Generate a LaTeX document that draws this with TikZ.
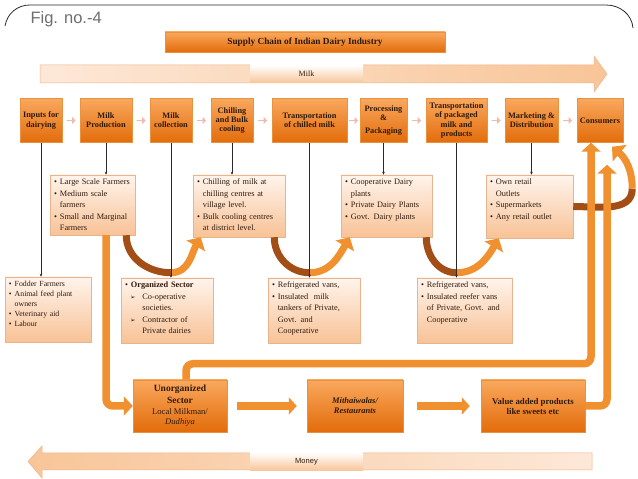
\documentclass[tikz,border=0pt]{standalone}
\usepackage{fontspec}
\setmainfont{Liberation Serif}
\setsansfont{Liberation Sans}
\newfontfamily\dingfont{DejaVu Sans}
\usetikzlibrary{arrows.meta,positioning,calc,shapes.arrows,shadows}
\definecolor{DyOrangeHi}{HTML}{F9A85E}
\definecolor{DyOrangeLo}{HTML}{E36C0A}
\definecolor{DyEdge}{HTML}{E8923F}
\definecolor{DyPeachHi}{HTML}{FFF4EC}
\definecolor{DyPeachLo}{HTML}{F8C296}
\definecolor{DyPeachEdge}{HTML}{E9B48B}
\definecolor{DyInk}{HTML}{2E1A0C}
\definecolor{DyBrown}{HTML}{A34E17}
\definecolor{DyFlow}{HTML}{F0902E}
\definecolor{DyBandL}{HTML}{FDE8D8}
\definecolor{DyBandR}{HTML}{F8C598}
\definecolor{DyBandEdge}{HTML}{F1B486}
\definecolor{DyChev}{HTML}{F3B9A9}
\definecolor{DyGray}{HTML}{6E6E6E}
\definecolor{DyLine}{HTML}{2A2A2A}
\newcommand{\bul}{\textbullet\hspace{3pt}}
\newcommand{\bhang}{\hspace*{0pt}\hphantom{\textbullet}\hspace{3pt}}
\newcommand{\darr}{\hspace*{5pt}{\dingfont\fontsize{6.5}{6.5}\selectfont ➢}\hspace{7pt}}
\newcommand{\dhang}{\hspace*{5pt}\hphantom{{\dingfont\fontsize{6.5}{6.5}\selectfont ➢}}\hspace{7pt}}
\tikzset{
  stage/.style={draw=DyEdge,line width=.5pt,top color=DyOrangeHi,bottom color=DyOrangeLo,
                text=DyInk,align=center,inner sep=1pt,minimum height=44pt,minimum width=#1,
                font=\fontsize{8.3}{9.2}\selectfont\bfseries,
                drop shadow={opacity=.25,shadow xshift=1pt,shadow yshift=-1pt}},
  peach/.style={draw=DyPeachEdge,line width=.5pt,top color=DyPeachHi,bottom color=DyPeachLo,
                text=DyInk,align=left,text width=#1,inner xsep=4pt,inner ysep=3pt,
                text height=7pt,font=\fontsize{8.3}{11.5}\selectfont,
                drop shadow={opacity=.2,shadow xshift=1pt,shadow yshift=-1pt}},
  titlebar/.style={top color=DyOrangeHi,bottom color=DyOrangeLo,draw=DyEdge,line width=.4pt,
                   minimum width=280pt,minimum height=20pt,text=DyInk,
                   font=\fontsize{9.3}{11}\selectfont\bfseries,
                   drop shadow={opacity=.2,shadow xshift=1pt,shadow yshift=-1pt}},
  band/.style={draw=DyBandEdge,line width=.5pt},
  bandtag/.style={minimum width=113pt,minimum height=18pt,inner sep=0pt,text=DyInk,
                  top color=white,bottom color=DyBandR},
  flow/.style={draw=DyFlow,line width=7.5pt,rounded corners=7pt,
               -{Triangle[width=19pt,length=9pt]}},
  dropbend/.style={draw=DyBrown,line width=7pt},
  risebend/.style={draw=DyFlow,line width=7pt,-{Triangle[width=21pt,length=10pt]}},
}
\begin{document}
\begin{tikzpicture}[x=1pt,y=1pt,
    chev/.style={single arrow,fill=DyChev,draw=none,minimum height=9pt,minimum width=7pt,
                 single arrow head extend=1.5pt,inner sep=0pt},
    tick/.style={DyLine,line width=.5pt,-{Stealth[length=3pt,width=2.6pt]}}]
  \useasboundingbox (0,0) rectangle (638,479);
  \fill[white] (0,0) rectangle (638,479);

  \draw[DyLine,line width=.8pt] (5,453) to[out=80,in=180] (30,474) -- (606,474)
    to[out=0,in=95] (633,451);
  \node[anchor=base west,text=DyGray,font=\sffamily\fontsize{16.5}{18}\selectfont]
    (fig) at (27,455) {Fig. no.-4};

  \node[titlebar] (title) at (305,437) {Supply Chain of Indian Dairy Industry};

  % milk and money bands
  \path[band,left color=DyBandL,right color=DyBandR]
    (40,396) -- (594,396) -- (594,387) -- (607,405) -- (594,423) -- (594,414) -- (40,414) -- cycle;
  \node[bandtag,font=\fontsize{8}{9}\selectfont] (milktag) at (306.5,405) {Milk};
  \path[band,left color=DyBandR,right color=DyBandL]
    (592,9) -- (42,9) -- (42,1) -- (28,17.5) -- (42,33) -- (42,26) -- (592,26) -- cycle;
  \node[bandtag,font=\sffamily\fontsize{7.5}{9}\selectfont] (moneytag) at (306.5,17.5) {Money};

  % stages of the chain
  \node[stage=42pt] (inputs) at (41,358.5) {Inputs for\\dairying};
  \node[stage=52pt] (prod) at (106,358.5) {Milk\\Production};
  \node[stage=42pt] (collect) at (171,358.5) {Milk\\collection};
  \node[stage=42pt] (chill) at (232,358.5) {Chilling\\and Bulk\\cooling};
  \node[stage=75pt] (transchill) at (309.5,358.5) {Transportation\\of chilled milk};
  \node[stage=47pt] (process) at (383.5,358.5) {Processing\\\&\\[3pt]Packaging};
  \node[stage=61pt] (transpack) at (456.5,358.5) {Transportation\\of packaged\\milk and\\products};
  \node[stage=53pt] (market) at (531.5,358.5) {Marketing \&\\Distribution};
  \node[stage=46pt] (consumers) at (600,358.5) {Consumers};

  \foreach \a/\b in {inputs/prod,prod/collect,collect/chill,chill/transchill,
                     transchill/process,process/transpack,transpack/market,market/consumers}
    \node[chev] at ($(\a.east)!.5!(\b.west)$) {};

  % detail boxes
  \node[peach=77pt,text depth=47pt] (farmers) at (92.5,274)
    {\bul Large Scale Farmers\\\bul Medium scale\\\bhang farmers\\\bul Small and Marginal\\\bhang Farmers};
  \node[peach=84pt,text depth=49pt] (chillbox) at (239,273)
    {\bul Chilling of milk at\\\bhang chilling centres at\\\bhang village level.\\\bul Bulk cooling centres\\\bhang at district level.};
  \node[peach=83pt,text depth=49pt] (plants) at (386.5,273)
    {\bul Cooperative Dairy\\\bhang plants\\\bul Private Dairy Plants\\\bul Govt. Dairy plants};
  \node[peach=79pt,text depth=50pt] (retail) at (529.5,272.5)
    {\bul Own retail\\\bhang Outlets\\\bul Supermarkets\\\bul Any retail outlet};
  \node[peach=78pt,text depth=52pt,font=\fontsize{7.8}{10}\selectfont] (fodder) at (48,169.5)
    {\bul Fodder Farmers\\\bul Animal feed plant\\\bhang owners\\\bul Veterinary aid\\\bul Labour};
  \node[peach=84pt,text depth=52pt] (orgsector) at (167,168.5)
    {\bul\textbf{Organized Sector}\\\darr Co-operative\\\dhang societies.\\\darr Contractor of\\\dhang Private dairies};
  \node[peach=84pt,text depth=52pt] (vans1) at (314,168.5)
    {\bul Refrigerated vans,\\\bul Insulated\ \ milk\\\bhang tankers of Private,\\\bhang Govt. and\\\bhang Cooperative};
  \node[peach=87pt,text depth=52pt] (vans2) at (464.5,168.5)
    {\bul Refrigerated vans,\\\bul Insulated reefer vans\\\bhang of Private, Govt. and\\\bhang Cooperative};

  % unorganized route
  \node[stage=94pt,minimum height=52pt,font=\fontsize{8.6}{10}\selectfont] (unorg) at (180,73)
    {\textbf{\fontsize{9.5}{11}\selectfont Unorganized}\\[2pt]\textbf{\fontsize{9.5}{11}\selectfont Sector}\\[1pt]Local Milkman/\\\textit{Dudhiya}};
  \node[stage=96pt,minimum height=52pt,font=\fontsize{8.5}{10}\selectfont\bfseries\itshape] (mithai) at (355,73)
    {Mithaiwalas/\\Restaurants};
  \node[stage=104pt,minimum height=52pt,font=\fontsize{8.8}{10}\selectfont\bfseries] (valueadd) at (533,73)
    {Value added products\\like sweets etc};

  % bending flows between the detail boxes
  \coordinate (ubot1) at ($(collect.south |- orgsector.north)+(0,5)$);
  \coordinate (ubot2) at ($(transchill.south |- vans1.north)+(0,5)$);
  \coordinate (ubot3) at ($(transpack.south |- vans2.north)+(0,5)$);
  \draw[dropbend] ($(farmers.south east)+(-9,0)$) to[out=-90,in=180] (ubot1);
  \draw[risebend] (ubot1) to[out=0,in=-120] ($(chillbox.south west)+(8,0)$);
  \draw[dropbend] ($(chillbox.south east)+(-11,0)$) to[out=-90,in=180] (ubot2);
  \draw[risebend] (ubot2) to[out=0,in=-120] ($(plants.south west)+(9,0)$);
  \draw[dropbend] ($(plants.south east)+(-6,0)$) to[out=-90,in=180] (ubot3);
  \draw[risebend] (ubot3) to[out=0,in=-120] ($(retail.south west)+(13,0)$);
  \coordinate (hook) at ($(consumers.south east)+(9,-46)$);
  \draw[dropbend] (retail.east) to[out=0,in=-90] (hook);
  \draw[risebend] (hook) to[out=90,in=-40] ($(consumers.south)+(12,-4)$);

  % thin drop lines
  \draw[tick] (inputs.south) -- (inputs.south |- fodder.north);
  \draw[tick] (prod.south) -- (prod.south |- farmers.north);
  \draw[tick] (collect.south) -- (collect.south |- orgsector.north);
  \draw[tick] (chill.south) -- (chill.south |- chillbox.north);
  \draw[tick] (transchill.south) -- (transchill.south |- vans1.north);
  \draw[tick] (process.south) -- (process.south |- plants.north);
  \draw[tick] (transpack.south) -- (transpack.south |- vans2.north);
  \draw[tick] (market.south) -- (market.south |- retail.north);

  % thick flows
  \draw[flow] (prod.south |- farmers.south) |- (unorg.west);
  \draw[flow,shorten <=10pt,shorten >=10pt,-{Triangle[width=17pt,length=8pt]}] (unorg.east) -- (mithai.west);
  \draw[flow,shorten <=14pt,shorten >=11pt,-{Triangle[width=17pt,length=8pt]}] (mithai.east) -- (valueadd.west);
  \draw[flow] ($(unorg.north)+(6,0)$) -- ++(0,16) -| ($(consumers.south)+(-9,0)$);
  \draw[flow] (valueadd.east) -| ($(consumers.south)+(7,-22)$);
\end{tikzpicture}
\end{document}
